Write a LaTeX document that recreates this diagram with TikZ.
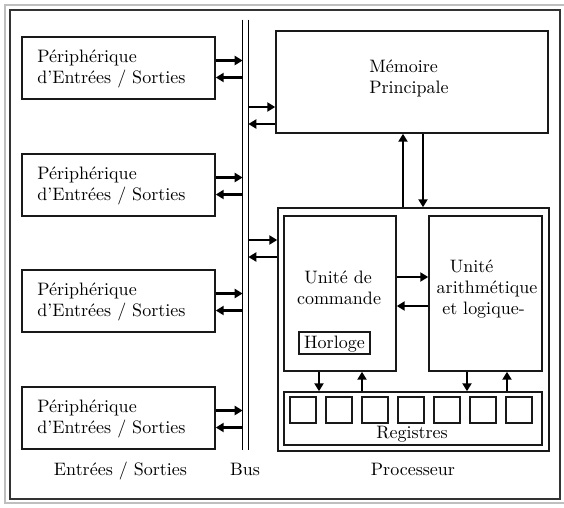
\documentclass[tikz,border=0pt]{standalone}
\usetikzlibrary{arrows.meta}
\begin{document}
\begin{tikzpicture}[x=0.5556pt,y=-0.5556pt,
  box/.style={draw=black!90, line width=0.85pt, inner sep=0pt, minimum width=#1},
  arr/.style={line width=1.6pt, -{Triangle[length=4.4pt,width=5pt]}},
  txt/.style={inner sep=0pt, font=\normalsize},
  busline/.style={line width=0.85pt}]
\def\u{0.5556pt}
\useasboundingbox (0,0) rectangle (564,507);
% frames
\draw[black!25, line width=0.8pt] (5,5) rectangle (570,503);
\draw[black!80, line width=1.1pt] (10,10) rectangle (560,499);
% bus
\node[inner sep=0pt, minimum width=5*\u, minimum height=430*\u] (bus) at (245.5,235) {};
\draw[busline] (bus.north west) -- (bus.south west);
\draw[busline] (bus.north east) -- (bus.south east);
% peripherals
\foreach \i/\t in {1/37,2/154,3/270,4/387}{
  \node[box=193*\u, minimum height=62*\u] (p\i) at (118.5,\t+31) {};
  \node[txt, anchor=base west] (p\i a) at (37,\t+25) {Périphérique};
  \node[txt, anchor=base west] (p\i b) at (37,\t+46) {d'Entrées / Sorties};
  \coordinate (r\i) at (0,\t+23.5);
  \coordinate (l\i) at (0,\t+40.5);
  \draw[arr] (p\i.east |- r\i) -- (bus.west |- r\i);
  \draw[arr] (bus.west |- l\i) -- (p\i.east |- l\i);
}
% memory
\node[box=272*\u, minimum height=102*\u] (mem) at (412,82) {};
\node[txt, anchor=base west] (mema) at (369,72) {Mémoire};
\node[txt, anchor=base west] (memb) at (369,93) {Principale};
\coordinate (mr) at (0,107);
\coordinate (ml) at (0,124);
\draw[arr] (bus.east |- mr) -- (mem.west |- mr);
\draw[arr] (mem.west |- ml) -- (bus.east |- ml);
% processor
\node[box=271*\u, minimum height=243*\u] (proc) at (413.5,329.5) {};
\coordinate (pr) at (0,240);
\coordinate (pl) at (0,257);
\draw[arr] (bus.east |- pr) -- (proc.west |- pr);
\draw[arr] (proc.west |- pl) -- (bus.east |- pl);
\coordinate (vu) at (403,0);
\coordinate (vd) at (423,0);
\draw[arr] (proc.north -| vu) -- (mem.south -| vu);
\draw[arr] (mem.south -| vd) -- (proc.north -| vd);
% control unit
\node[box=112*\u, minimum height=155*\u] (uc) at (340,293.5) {};
\node[txt, anchor=base] (uca) at (338,283) {Unité de};
\node[txt, anchor=base] (ucb) at (339,304) {commande};
\node[box=71*\u, minimum height=22*\u] (clk) at (334.5,343) {};
\node[txt, anchor=base] (clkt) at (334.5,348) {Horloge};
% ALU
\node[box=113*\u, minimum height=155*\u] (alu) at (485.5,293.5) {};
\node[txt, anchor=base] (alua) at (471.5,272) {Unité};
\node[txt, anchor=base] (alub) at (487,293) {arithmétique};
\node[txt, anchor=base] (aluc) at (483.5,314) {et logique-};
\coordinate (ur) at (0,277);
\coordinate (ul) at (0,306);
\draw[arr] (uc.east |- ur) -- (alu.west |- ur);
\draw[arr] (alu.west |- ul) -- (uc.east |- ul);
% registers
\node[box=258*\u, minimum height=53*\u] (reg) at (413,418.5) {};
\foreach \k in {0,...,6}{
  \node[box=26*\u, minimum height=26*\u] (sq\k) at (303+36*\k,410) {};
}
\node[txt, anchor=base] (regt) at (412,438) {Registres};
\coordinate (d1) at (319,0);
\coordinate (u1) at (362,0);
\coordinate (d2) at (467,0);
\coordinate (u2) at (507,0);
\draw[arr] (uc.south -| d1) -- (reg.north -| d1);
\draw[arr] (reg.north -| u1) -- (uc.south -| u1);
\draw[arr] (alu.south -| d2) -- (reg.north -| d2);
\draw[arr] (reg.north -| u2) -- (alu.south -| u2);
% captions
\node[txt, anchor=base] (capio) at (120.5,475) {Entrées / Sorties};
\node[txt, anchor=base] (capbus) at (245,475) {Bus};
\node[txt, anchor=base] (capproc) at (413,475) {Processeur};
\end{tikzpicture}
\end{document}
